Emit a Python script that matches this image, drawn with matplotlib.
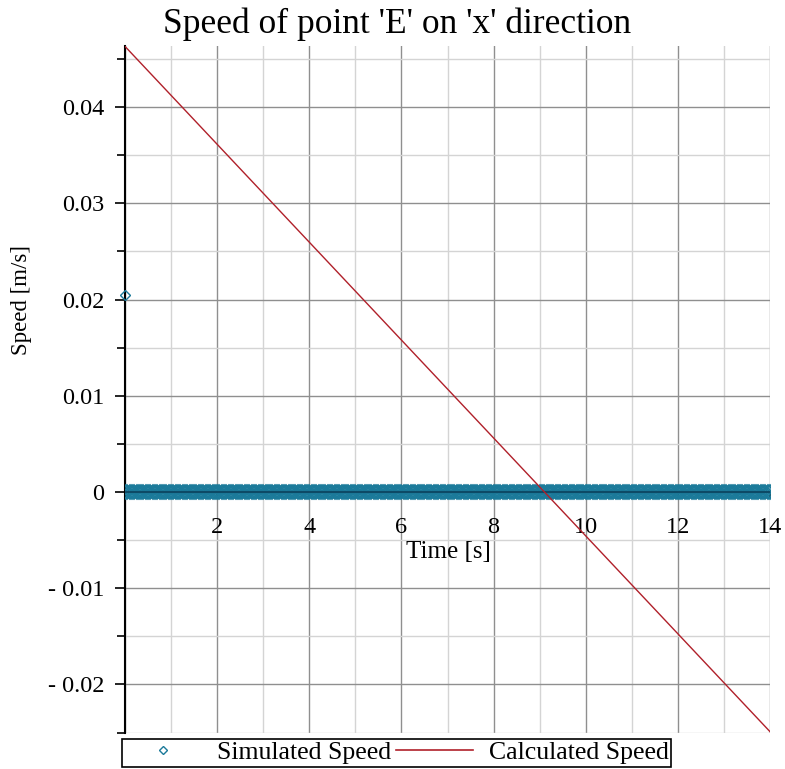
import matplotlib
matplotlib.use("Agg")
import matplotlib.pyplot as plt
from matplotlib.ticker import MultipleLocator, FuncFormatter
from matplotlib.lines import Line2D
import numpy as np

plt.rcParams['font.family'] = ['Liberation Serif', 'DejaVu Serif']

# simulated speed: one value at t=0, then zero for the rest of the run
sim_time = np.arange(0, 14.001, 0.05)
sim_speed = np.zeros(len(sim_time))
sim_first_time = [0.0]
sim_first_speed = [0.0205]

# calculated speed (straight line)
calc_time = [0.0, 14.0]
calc_speed = [0.0463, -0.0249]

teal = '#1b7a9a'
red = '#b0202a'

fig = plt.figure(figsize=(7.85, 7.69), dpi=100)
ax = fig.add_axes([125/785, 1-733/769, 645/785, (733-46)/769])

ax.plot(sim_time, sim_speed, linestyle='none', marker='D', markersize=7,
        markerfacecolor='none', markeredgecolor=teal, markeredgewidth=1.3, zorder=3)
ax.axhline(0, color='#0d4a66', lw=1.5, zorder=3)
ax.plot(sim_first_time, sim_first_speed, linestyle='none', marker='D', markersize=5,
        markerfacecolor='none', markeredgecolor=teal, markeredgewidth=1, zorder=3, clip_on=False)
ax.plot(calc_time, calc_speed, color=red, lw=1, zorder=4)

ax.set_xlim(0, 14)
ax.set_ylim(-0.02504, 0.04634)

ax.xaxis.set_major_locator(MultipleLocator(2))
ax.xaxis.set_minor_locator(MultipleLocator(1))
ax.yaxis.set_major_locator(MultipleLocator(0.01))
ax.yaxis.set_minor_locator(MultipleLocator(0.005))

def yfmt(v, pos):
    if abs(v) < 1e-9:
        return '0'
    s = '%.2f' % abs(v)
    return ('- ' + s) if v < 0 else s

def xfmt(v, pos):
    return '' if abs(v) < 1e-9 else '%d' % v

ax.yaxis.set_major_formatter(FuncFormatter(yfmt))
ax.xaxis.set_major_formatter(FuncFormatter(xfmt))

ax.grid(which='major', color='#8f8f8f', lw=1.0)
ax.grid(which='minor', color='#d4d4d4', lw=1.0)
ax.set_axisbelow(True)

for s in ['top', 'right']:
    ax.spines[s].set_visible(False)
ax.spines['bottom'].set_position(('data', 0))
ax.spines['left'].set_linewidth(1.5)
ax.spines['bottom'].set_linewidth(1.2)

ax.tick_params(axis='y', which='major', direction='out', length=7, width=1.2, pad=8, labelsize=17.5)
ax.tick_params(axis='y', which='minor', direction='out', length=6, width=1.2)
ax.tick_params(axis='x', which='major', direction='out', length=5, width=1.2, pad=13, labelsize=17.5)
ax.tick_params(axis='x', which='minor', length=0)

fig.text(397/785, 1-24/769, "Speed of point 'E' on 'x' direction",
         ha='center', va='center', fontsize=25.5)
fig.text(22/785, 1-300/769, 'Speed [m/s]', rotation=90, ha='center', va='center', fontsize=16.5)
fig.text(448/785, 1-552/769, 'Time [s]', ha='center', va='center', fontsize=18)

handles = [Line2D([], [], linestyle='none', marker='D', markersize=4,
                  markerfacecolor='none', markeredgecolor=teal),
           Line2D([], [], color=red, lw=1.2)]
leg = fig.legend(handles, ['Simulated Speed', 'Calculated Speed'], ncol=2,
                 loc='lower left', bbox_to_anchor=(122/785, 1-767/769),
                 fontsize=18.5, frameon=True, fancybox=False, framealpha=1,
                 edgecolor='black', borderpad=0.1, handlelength=3.0,
                 columnspacing=0.2, handletextpad=0.6, borderaxespad=0)
leg.get_frame().set_linewidth(1.2)

fig.savefig('out.png', dpi=100)
